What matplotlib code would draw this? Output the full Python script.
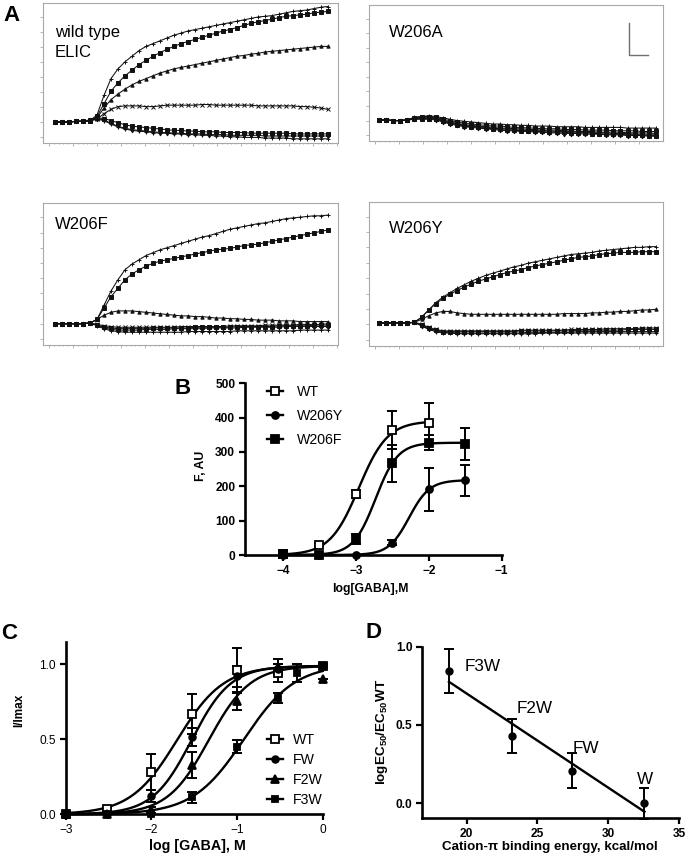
import numpy as np
import matplotlib
matplotlib.use("Agg")
import matplotlib.pyplot as plt
from matplotlib.lines import Line2D

plt.rcParams["font.family"] = ["Liberation Sans", "DejaVu Sans"]
plt.rcParams["mathtext.default"] = "regular"

# ---- panel A: fluorescence traces (box height = 0..100) ----
WT_TRACES = [
    [15,15,15,15.5,15.5,16, 20,34,46,53,58,62,66,69,71,73, 75,77,78.5,80,81,82,83,84,85,86, 87,88,89,90,90.5,91,92,93,94,94.5, 95,96,97,97.5],
    [15,15,15,15.5,15.5,16, 19,28,37,43,48,52,56,59,62,64.5, 67,69,71,72.5,74,75.5,77,78.5,80,81, 82.5,84,85.5,86.5,87.5,88.5,89.5,90.5,91,91.5, 92,93,93.5,94],
    [15,15,15,15.5,15.5,16, 18,25,31,35,38.5,41.5,44,46,48,50, 51.5,53,54,55,56,57,58,59,60,61, 62,62.5,63.5,64,65,65.5,66,66.5,67,67.5, 68,68.5,69,69],
    [15,15,15,15.5,15.5,16, 17,21,24,26,26.5,26.5,26.5,26,26,26.5, 27,27,27,27,27,27.5,27.5,27,27,27, 27,27,27,26.5,26.5,26.5,26.5,26.5,26.5,26, 26,25.5,25,24],
    [15,15,15,15.5,15.5,16.5, 18,17.5,16,14.5,13,12,11.5,11,10.5,10, 9.5,9,9,8.5,8.5,8,8,8,7.5,7.5, 7.5,7.5,7,7,7,7,7,7,6.5,6.5, 6.5,6.5,6.5,6.5],
    [15,15,15,15.5,15.5,16.5, 17.5,16.5,14,12,10.5,9.5,9,8.5,8,7.5, 7.5,7,7,6.5,6.5,6.5,6,6,6,5.5, 5.5,5.5,5.5,5.5,5,5,5,5,5,5, 5,5,5,5],
    [15,15,15,15.5,15.5,16, 17,16,13.5,11.5,10,9,8.5,8,7.5,7, 7,6.5,6.5,6,6,5.5,5.5,5,5,4.5, 4.5,4,4,4,3.5,3.5,3.5,3.5,3,3, 3,3,3,3],
]
W206A_TRACES = [
    [15.5,15.5,15,15,15.5, 17.5,18,18.5,18,17,16,15,14.5,14,13.5, 13,12.5,12.5,12,12,11.5,11.5,11,11,11, 10.5,10.5,10.5,10.5,10,10,10,10,10,10, 9.5,9.5,9.5,9.5,9.5],
    [15.5,15.5,15,15,15.5, 17,18,18,17.5,16,15,14,13,12.5,12, 11.5,11,11,10.5,10,10,9.5,9.5,9,9, 9,8.5,8.5,8.5,8,8,8,8,7.5,7.5, 7.5,7.5,7,7,7],
    [15.5,15.5,15,15,15.5, 16.5,17.5,17.5,17,15.5,14,13,12,11.5,11, 10.5,10,9.5,9.5,9,9,8.5,8.5,8,8, 8,7.5,7.5,7,7,7,6.5,6.5,6.5,6.5, 6,6,6,6,5.5],
    [15.5,15.5,15,15,15.5, 16.5,17,17,16.5,15,13.5,12.5,11.5,11,10.5, 10,9.5,9,9,8.5,8,8,7.5,7.5,7.5, 7,7,7,6.5,6.5,6,6,6,5.5,5.5, 5.5,5,5,5,5],
    [15.5,15.5,15,15,15.5, 16,16.5,16.5,16,14.5,13,12,11,10.5,10, 9.5,9,8.5,8,8,7.5,7.5,7,7,6.5, 6.5,6.5,6,6,6,5.5,5.5,5,5,5, 4.5,4.5,4.5,4,4],
    [15.5,15.5,15,15,15.5, 16,16,16,15.5,14,12.5,11.5,10.5,10,9.5, 9,8.5,8,7.5,7.5,7,7,6.5,6.5,6, 6,5.5,5.5,5.5,5,5,5,4.5,4.5,4.5, 4,4,4,3.5,3.5],
]
W206F_TRACES = [
    [15,15,15,15,15,15.5, 18,28,38,46,53,57,60,63,65,67, 68.5,70,71.5,73,74.5,76,77,78.5,80,81.5, 82.5,83.5,84.5,85.5,86,87,88,89,89.5,90, 90.5,91,91,91.5],
    [15,15,15,15,15,15.5, 18,26,34,40,46,50,53,55.5,57.5,59, 60,61,62,63,64,65,66,67,67.5,68, 69,70,70.5,71,72,73,74,75,76,77, 78,79,80,81],
    [15,15,15,15,15,15.5, 18,21,23,24,24,24,23.5,23,22.5,22, 21.5,21,20.5,20.5,20,20,19.5,19,19,18.5, 18.5,18,18,17.5,17.5,17.5,17,17,17,16.5, 16.5,16.5,16.5,16.5],
    [15,15,15,15,15,15.5, 14.5,13.5,13,12.5,12.5,12.5,12.5,12.5,12.5,12.5, 12.5,12.5,13,13,13,13,13,13,13,13.5, 13.5,13.5,13.5,13.5,14,14,14,14,14,14.5, 14.5,14.5,14.5,15],
    [15,15,15,15,15,15.5, 14,12.5,12,11.5,11.5,11.5,11.5,11.5,12,12, 12,12,12,12,12.5,12.5,12.5,12.5,12.5,12.5, 13,13,13,13,13,13,13.5,13.5,13.5,13.5, 13.5,14,14,14],
    [15,15,15,15,15,15.5, 14,12,11,10.5,10.5,10.5,10.5,11,11,11, 11,11.5,11.5,11.5,11.5,11.5,12,12,12,12, 12,12.5,12.5,12.5,12.5,12.5,12.5,13,13,13, 13,13,13,13],
    [15,15,15,15,15,15.5, 13.5,11.5,10,9.5,9,9,9,9,9,9, 9,9,9,9.5,9.5,9.5,9.5,9.5,9.5,9.5, 10,10,10,10,10,10,10,10,10,10.5, 10.5,10.5,10.5,10.5],
]
W206Y_TRACES = [
    [16,16,16,16,16,16.5, 20,25,30,34,37,40,42.5,45,47,49, 50.5,52,53.5,55,56,57.5,58.5,59.5,60.5,61.5, 62.5,63.5,64,64.5,65,66,66.5,67,67.5,68, 68.5,68.5,69,69],
    [16,16,16,16,16,16.5, 20,25,29.5,33,36,38.5,41,43,45,46.5, 48,49.5,51,52,53,54.5,55.5,56.5,57.5,58.5, 59.5,60.5,61.5,62,62.5,63.5,64,64.5,65,65, 65,65.5,65.5,65.5],
    [16,16,16,16,16,16.5, 18.5,21,23,24,24,23,22.5,22,22,22, 22,22,22,22,22,22,22,22,22,22, 22.5,22.5,22.5,22.5,23,23,23.5,23.5,24,24, 24.5,25,25,25.5],
    [16,16,16,16,16,16.5, 15,13,11.5,10.5,10.5,10.5,10.5,10.5,10.5,10.5, 10.5,10.5,10.5,10.5,11,11,11,11,11,11, 11,11.5,11.5,11.5,11.5,11.5,12,12,12,12, 12,12.5,12.5,12.5],
    [16,16,16,16,16,16.5, 14.5,12.5,11,10,10,10,10,10,10,10, 10,10,10,10,10.5,10.5,10.5,10.5,10.5,10.5, 10.5,10.5,11,11,11,11,11,11,11,11.5, 11.5,11.5,11.5,11.5],
    [16,16,16,16,16,16.5, 14,12,10.5,9.5,9.5,9,9,9,9,9, 9,9,9,9,9,9.5,9.5,9.5,9.5,9.5, 9.5,9.5,10,10,10,10,10,10,10,10, 10,10,10,10],
    [16,16,16,16,16,16.5, 14,11.5,10,9,9,8.5,8.5,8.5,8.5,8.5, 8.5,8.5,8.5,8.5,8.5,8.5,8.5,9,9,9, 9,9,9,9,9,9,9,9,9,9, 9,9,9,9],
]
TRACE_MARKERS = ["+", "s", "^", "x", "s", "d", "+"]

# ---- panel B: dose response ----
B_NAMES = ["WT", "W206Y", "W206F"]
B_X = [[-4, -3.5, -3, -2.5, -2],
       [-4, -3.5, -3, -2.5, -2, -1.5],
       [-4, -3.5, -3, -2.5, -2, -1.5]]
B_Y = [[3, 30, 177, 364, 383],
       [0, 0, 0, 36, 191, 218],
       [2, 0, 47, 267, 327, 323]]
B_ERR = [[0, 4, 12, 55, 60],
         [0, 0, 0, 8, 62, 45],
         [0, 0, 15, 53, 22, 46]]
B_TOP = [390, 218, 327]
B_LOGEC50 = [-2.96, -2.27, -2.73]
B_HILL = [2.2, 3.1, 2.85]
B_XMAX = [-2, -1.5, -1.5]

# ---- panel C: normalised currents ----
C_NAMES = ["WT", "FW", "F2W", "F3W"]
C_X = [[-3, -2.52, -2, -1.52, -1, -0.52, 0],
       [-3, -2.52, -2, -1.52, -1, -0.52, 0],
       [-3, -2.52, -2, -1.52, -1, -0.52, 0],
       [-3, -2.52, -2, -1.52, -1, -0.52, -0.3, 0]]
C_Y = [[0, 0.035, 0.28, 0.67, 0.96, 0.94, 0.99],
       [0, 0, 0.12, 0.515, 0.92, 0.97, 0.99],
       [0, 0, 0.03, 0.33, 0.758, 0.985, 0.90],
       [0, 0, 0, 0.113, 0.451, 0.773, 0.944, 0.99]]
C_ERR = [[0, 0.01, 0.12, 0.135, 0.15, 0.06, 0.01],
         [0, 0, 0.04, 0.06, 0.07, 0.03, 0.01],
         [0, 0, 0.02, 0.085, 0.06, 0.05, 0],
         [0, 0, 0, 0.035, 0.045, 0.033, 0.06, 0.01]]
C_TOP = [0.99, 0.99, 0.99, 1.0]
C_LOGEC50 = [-1.70, -1.53, -1.33, -0.92]
C_HILL = [1.6, 1.9, 1.8, 1.45]

# ---- panel D: cation-pi correlation ----
D_NAMES = ["F3W", "F2W", "FW", "W"]
D_ENERGY = [18.75, 23.21, 27.44, 32.56]
D_SHIFT = [0.846, 0.43, 0.208, 0.0]
D_ERR = [0.14, 0.11, 0.11, 0.1]

W, H = 688, 864


def box(l, t, r, b):
    return [l / W, 1 - b / H, (r - l) / W, (b - t) / H]


def hill(x, top, ec, h):
    return top / (1 + 10 ** ((ec - x) * h))


fig = plt.figure(figsize=(W / 100, H / 100), dpi=100)

# ---- A ----
panels_a = [
    ((43, 3, 338, 143), WT_TRACES, 55, 7.0, ["wild type", "ELIC"], (55, [36.7, 57.3])),
    ((369, 5, 663, 141), W206A_TRACES, 379, 7.1, ["W206A"], (389, [37.3])),
    ((43, 203, 338, 345), W206F_TRACES, 55, 7.0, ["W206F"], (55, [229.3])),
    ((369, 202, 663, 346), W206Y_TRACES, 379, 7.1, ["W206Y"], (389, [232.7])),
]
for (l, t, r, b), traces, x0, dx, lines, (tx, tys) in panels_a:
    ax = fig.add_axes(box(l, t, r, b))
    idx = np.arange(len(traces[0]))
    for k, tr in enumerate(traces):
        ax.plot(idx, tr, color="#111111", lw=0.75, marker=TRACE_MARKERS[k],
                ms=2.4, mew=0.7)
    ax.set_xlim((l - x0) / dx, (r - x0) / dx)
    ax.set_ylim(0, 100)
    for s in ax.spines.values():
        s.set_color("#a8a8a8"); s.set_linewidth(0.8)
    ax.set_yticks(np.arange(4.3, 100, 10.7))
    step = 24 / dx
    ax.set_xticks(np.arange((l + 6 - x0) / dx, (r - x0) / dx, step))
    ax.set_xticks(np.arange((l + 6 - x0) / dx, (r - x0) / dx, step / 5), minor=True)
    ax.tick_params(which="both", direction="out", length=2, width=0.6,
                   colors="#a8a8a8", labelleft=False, labelbottom=False)
    ax.tick_params(axis="x", which="minor", length=1)
    for txt, ty in zip(lines, tys):
        fig.text(tx / W, 1 - ty / H, txt, fontsize=12, va="baseline", ha="left")

# scale bar in W206A
fig.add_artist(Line2D([629 / W, 629 / W, 648 / W], [1 - 23 / H, 1 - 55 / H, 1 - 55 / H],
                      color="#707070", lw=1.0))

# ---- B ----
axB = fig.add_axes(box(245, 383.3, 501.7, 555))
b_markers = [dict(marker="s", mfc="white", ms=6.0),
             dict(marker="o", mfc="black", ms=5.0),
             dict(marker="s", mfc="black", ms=5.5)]
handles = []
for k in range(3):
    xs = np.linspace(-4, B_XMAX[k], 200)
    axB.plot(xs, hill(xs, B_TOP[k], B_LOGEC50[k], B_HILL[k]), color="black", lw=1.7,
             clip_on=False)
    eb = axB.errorbar(B_X[k], B_Y[k], yerr=B_ERR[k], fmt="none", ecolor="black",
                      elinewidth=1.4, capsize=3.8, capthick=1.4)
    for a in eb.get_children():
        a.set_clip_on(False)
    axB.plot(B_X[k], B_Y[k], ls="none", mec="black", mew=1.3, clip_on=False, zorder=4,
             **b_markers[k])
    handles.append(Line2D([], [], color="black", lw=1.7, mec="black", mew=1.3,
                          **b_markers[k]))
axB.set_xlim(-4.52, -1)
axB.set_ylim(0, 500)
axB.set_xticks([-4, -3, -2, -1])
axB.set_yticks([0, 100, 200, 300, 400, 500])
axB.legend(handles, B_NAMES, loc="upper left", bbox_to_anchor=(267 / W, 1 - 385 / H),
           bbox_transform=fig.transFigure, frameon=False, fontsize=10.2,
           handlelength=1.1, handletextpad=1.0, labelspacing=0.72, borderpad=0,
           borderaxespad=0)

# ---- C ----
axC = fig.add_axes(box(65.7, 642.3, 322.7, 814.3))
c_markers = [dict(marker="s", mfc="white", ms=5.3),
             dict(marker="o", mfc="black", ms=4.8),
             dict(marker="^", mfc="black", ms=5.3),
             dict(marker="s", mfc="black", ms=5.0)]
handles = []
xs = np.linspace(-3, 0, 200)
for k in range(4):
    axC.plot(xs, hill(xs, C_TOP[k], C_LOGEC50[k], C_HILL[k]), color="black", lw=1.7,
             clip_on=False)
    eb = axC.errorbar(C_X[k], C_Y[k], yerr=C_ERR[k], fmt="none", ecolor="black",
                      elinewidth=1.4, capsize=3.8, capthick=1.4)
    for a in eb.get_children():
        a.set_clip_on(False)
    axC.plot(C_X[k], C_Y[k], ls="none", mec="black", mew=1.3, clip_on=False, zorder=4,
             **c_markers[k])
    handles.append(Line2D([], [], color="black", lw=1.7, mec="black", mew=1.3,
                          **c_markers[k]))
axC.set_xlim(-3, 0)
axC.set_ylim(0, 1.147)
axC.set_xticks([-3, -2, -1, 0])
axC.set_yticks([0, 0.5, 1.0])
axC.set_yticklabels(["0.0", "0.5", "1.0"])
axC.legend(handles, C_NAMES, loc="upper left", bbox_to_anchor=(267 / W, 1 - 733 / H),
           bbox_transform=fig.transFigure, frameon=False, fontsize=10.2,
           handlelength=1.1, handletextpad=0.75, labelspacing=0.42, borderpad=0,
           borderaxespad=0)

# ---- D ----
axD = fig.add_axes(box(422.3, 646.7, 679, 818.3))
slope, icpt = np.polyfit(D_ENERGY, D_SHIFT, 1)
xe = np.array([min(D_ENERGY), max(D_ENERGY)])
axD.plot(xe, slope * xe + icpt, color="black", lw=1.7)
eb = axD.errorbar(D_ENERGY, D_SHIFT, yerr=D_ERR, fmt="o", color="black", ms=5.0,
                  elinewidth=1.4, capsize=3.8, capthick=1.4)
for a in eb.get_children():
    a.set_clip_on(False)
offsets = [(15.7, 4), (4.4, 27.7), (1, 22.4), (-7.7, 24)]
for name, x, y, (ox, oy) in zip(D_NAMES, D_ENERGY, D_SHIFT, offsets):
    axD.annotate(name, (x, y), xytext=(ox, oy), textcoords="offset pixels",
                 fontsize=12.3, ha="left", va="center")
axD.set_xlim(16.87, 35)
axD.set_ylim(-0.096, 1.0)
axD.set_xticks([20, 25, 30, 35])
axD.set_yticks([0, 0.5, 1.0])
axD.set_yticklabels(["0.0", "0.5", "1.0"])

# common styling for B, C, D
for ax, bold in ((axB, True), (axC, False), (axD, True)):
    ax.spines["top"].set_visible(False)
    ax.spines["right"].set_visible(False)
    ax.spines["left"].set_linewidth(1.9)
    ax.spines["bottom"].set_linewidth(1.9)
    ax.tick_params(direction="out", length=4, width=1.6, labelsize=8.6, pad=3)
    if bold:
        for lab in ax.get_xticklabels() + ax.get_yticklabels():
            lab.set_fontweight("bold")

# axis labels
fig.text(201 / W, 1 - 466 / H, "F, AU", rotation=90, ha="center", va="center",
         fontsize=8.8, fontweight="bold")
fig.text(370 / W, 1 - 589 / H, "log[GABA],M", ha="center", va="center",
         fontsize=8.8, fontweight="bold")
fig.text(19 / W, 1 - 710 / H, "I/Imax", rotation=90, ha="center", va="center",
         fontsize=8.5, fontweight="bold")
fig.text(197 / W, 1 - 846 / H, "log [GABA], M", ha="center", va="center",
         fontsize=10.3, fontweight="bold")
fig.text(382 / W, 1 - 732 / H, "logEC$_{50}$/EC$_{50}$WT", rotation=90, ha="center",
         va="center", fontsize=9.7, fontweight="bold")
fig.text(550 / W, 1 - 847 / H, "Cation-π binding energy, kcal/mol", ha="center",
         va="center", fontsize=9.6, fontweight="bold")

# panel letters
for letter, x, y in (("A", 3, 21), ("B", 174, 394), ("C", 1, 639), ("D", 365, 638)):
    fig.text(x / W, 1 - y / H, letter, fontsize=16, fontweight="bold",
             ha="left", va="baseline")

fig.savefig("out.png", dpi=100)
plt.close(fig)
